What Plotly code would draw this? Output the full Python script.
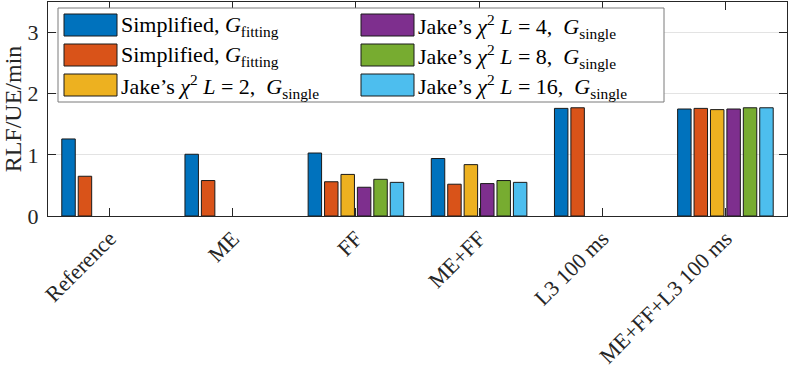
import plotly.graph_objects as go

# ================= data =================
categories = ["Reference", "ME", "FF", "ME+FF", "L3 100 ms", "ME+FF+L3 100 ms"]

series_names = [
    "Simplified, <i>G</i><sub>fitting</sub>",
    "Simplified, <i>G</i><sub>fitting</sub>",
    "Jake’s <i>χ</i><sup>2</sup> <i>L</i> = 2,  <i>G</i><sub>single</sub>",
    "Jake’s <i>χ</i><sup>2</sup> <i>L</i> = 4,  <i>G</i><sub>single</sub>",
    "Jake’s <i>χ</i><sup>2</sup> <i>L</i> = 8,  <i>G</i><sub>single</sub>",
    "Jake’s <i>χ</i><sup>2</sup> <i>L</i> = 16,  <i>G</i><sub>single</sub>",
]

# None = not evaluated for that scenario
simplified_a = [1.26, 1.01, 1.03, 0.94, 1.76, 1.75]
simplified_b = [0.65, 0.58, 0.56, 0.52, 1.77, 1.76]
jakes_l2 = [None, None, 0.68, 0.84, None, 1.74]
jakes_l4 = [None, None, 0.47, 0.53, None, 1.75]
jakes_l8 = [None, None, 0.60, 0.58, None, 1.77]
jakes_l16 = [None, None, 0.55, 0.55, None, 1.77]

series_values = [simplified_a, simplified_b, jakes_l2, jakes_l4, jakes_l8, jakes_l16]

y_ticks = [0, 1, 2, 3]
y_title = "RLF/UE/min"
# ========================================

COLORS = ["#0072BD", "#D95319", "#EDB120", "#7E2F8E", "#77AC30", "#4DBEEE"]
AX = "#262626"
FONT = "Liberation Serif, Times New Roman, serif"

W, H = 789, 371
L, R, T, B = 48, 2, 2, 155
PW, PH = W - L - R, H - T - B


def px2x(px):
    return (px - L) / PW


def px2y(py):
    return (H - B - py) / PH


fig = go.Figure()
for name, vals, col in zip(series_names, series_values, COLORS):
    fig.add_trace(go.Bar(
        x=categories, y=vals, name=name,
        marker=dict(color=col, line=dict(color="#1a1a1a", width=1)),
        showlegend=False,
    ))

# legend box (MATLAB style, 2 columns, column-major)
shapes = [dict(type="rect", xref="paper", yref="paper",
               x0=px2x(58), x1=px2x(664), y0=px2y(102), y1=px2y(8),
               fillcolor="white", line=dict(color="#7a7a7a", width=1), layer="above")]
annotations = []
col_x = [64, 361]
row_y = [14, 44, 74]
sym_w, sym_h = 53, 22
for i, name in enumerate(series_names):
    c, r = divmod(i, 3)
    x0 = col_x[c]
    y0 = row_y[r]
    shapes.append(dict(type="rect", xref="paper", yref="paper",
                       x0=px2x(x0), x1=px2x(x0 + sym_w),
                       y0=px2y(y0 + sym_h), y1=px2y(y0),
                       fillcolor=COLORS[i], line=dict(color="#1a1a1a", width=1), layer="above"))
    annotations.append(dict(xref="paper", yref="paper",
                            x=px2x(x0 + sym_w + 2), y=px2y(y0 + sym_h / 2 + 1),
                            text=name, showarrow=False, xanchor="left", yanchor="middle",
                            font=dict(family=FONT, size=22, color="black")))

fig.update_layout(
    width=W, height=H,
    margin=dict(l=L, r=R, t=T, b=B),
    plot_bgcolor="white", paper_bgcolor="white",
    barmode="group", bargap=0.2, bargroupgap=0.18,
    font=dict(family=FONT, size=22, color=AX),
    shapes=shapes, annotations=annotations,
    showlegend=False,
)
fig.update_xaxes(
    range=[-0.5, len(categories) - 0.5], automargin=False,
    showline=True, linecolor=AX, linewidth=1, mirror="ticks",
    ticks="inside", ticklen=8, tickcolor=AX, tickwidth=1,
    tickangle=-45, tickfont=dict(family=FONT, size=22, color=AX),
    showgrid=False,
)
fig.update_yaxes(
    range=[0, 3.5], tickvals=y_ticks, automargin=False,
    showline=True, linecolor=AX, linewidth=1, mirror="ticks",
    ticks="inside", ticklen=8, tickcolor=AX, tickwidth=1,
    tickfont=dict(family=FONT, size=22, color=AX), ticklabelstandoff=4,
    showgrid=True, gridcolor="#e3e3e3", gridwidth=1, zeroline=False,
    title=dict(text=y_title, font=dict(family=FONT, size=24, color=AX), standoff=4),
)

# drop the browser's default page margin so the figure sits at the window's corner
fig.write_html("out.html", config={"displayModeBar": False},
               post_script="document.body.style.margin='0';")
